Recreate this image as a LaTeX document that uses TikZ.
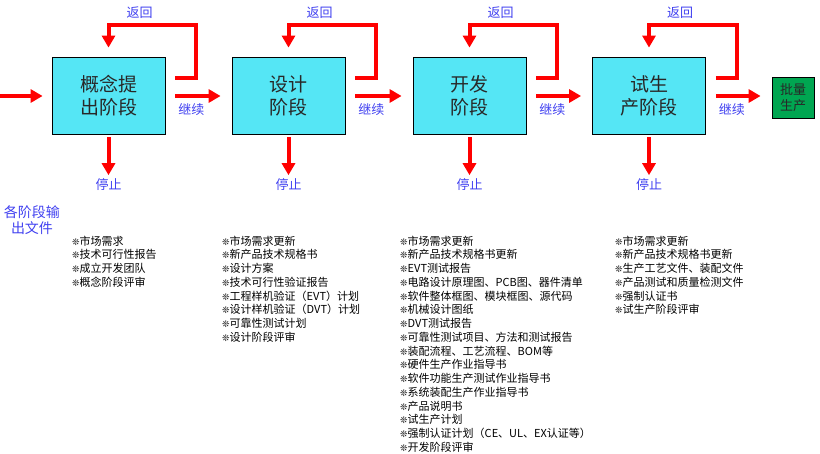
\documentclass[tikz,border=0pt]{standalone}
\usepackage{fontspec}
\setmainfont{Noto Sans CJK SC}
\newfontfamily\bulletfont{DejaVu Sans}
\usepackage{tikz}
\usepackage{xcolor}
\usetikzlibrary{arrows.meta,calc,positioning}
\definecolor{StageCyan}{RGB}{85,230,245}
\definecolor{MassGreen}{RGB}{0,166,81}
\definecolor{FlowRed}{RGB}{255,0,0}
\definecolor{LabelBlue}{RGB}{64,64,240}
\definecolor{BoxText}{RGB}{40,40,40}
\newcommand{\itm}{{\bulletfont\fontsize{9}{9}\selectfont\char"274A}}

\begin{document}
\begin{tikzpicture}[
      x=1pt,y=1pt,
      stagebox/.style={draw=black,fill=StageCyan,line width=0.8pt,minimum width=113pt,minimum height=77pt,align=center,text=BoxText,font=\fontsize{19}{23}\selectfont},
      endbox/.style={draw=black,fill=MassGreen,line width=0.8pt,minimum width=42pt,minimum height=41pt,inner sep=0pt,align=center,text=BoxText,font=\fontsize{13}{15.5}\selectfont},
      lbl/.style={text=LabelBlue,inner sep=0pt,font=\fontsize{13}{15}\selectfont},
      outlist/.style={anchor=north west,align=left,inner sep=0pt,text=black,font=\fontsize{11}{13.75}\selectfont},
      arr/.style={-{Triangle[length=12pt,width=13pt]},line width=4pt,draw=FlowRed},
      back/.style={arr,miter limit=10}
    ]
      \useasboundingbox (0,0) rectangle (820,-453);
      \node[stagebox] (c1) at (108.5,-95.5) {概念提\\出阶段};
      \node[stagebox] (c2) at (288.5,-95.5) {设计\\阶段};
      \node[stagebox] (c3) at (469.5,-95.5) {开发\\阶段};
      \node[stagebox] (c4) at (649,-95.5) {试生\\产阶段};
      \node[endbox] (pl) at (793,-97.5) {批量\\生产};
      \coordinate (start) at (0,-96);
      \draw[arr] (start) -- ($(c1.west)+(-9,-0.5)$);
      \foreach \a/\b in {c1/c2,c2/c3,c3/c4,c4/pl}{
        \draw[arr] ($(\a.east)+(10,-0.5)$) -- ($(\b.west|-\a.east)+(-11,-0.5)$);
        \node[lbl] at ($(\a.east)+(26,-14)$) {继续};
      }
      \foreach \a in {c1,c2,c3,c4}{
        \draw[back] ($(\a.east)+(10,17.5)$) -| ($(\a.north east)+(31,32)$) -| ($(\a.north)+(0,9)$);
        \node[lbl] at ($(\a.north)+(31,44)$) {返回};
        \node[lbl] (t\a) at ($(\a.south)+(0,-50)$) {停止};
        \draw[arr,shorten >=3pt] ($(\a.south)+(0,-3)$) -- (t\a.north);
      }
      \node[lbl,align=center,font=\fontsize{14}{15.5}\selectfont] (out) at (32,-220) {各阶段输\\出文件};
      \node[outlist] (l1) at (72,-235.5) {\itm 市场需求\\\itm 技术可行性报告\\\itm 成立开发团队\\\itm 概念阶段评审};
      \node[outlist] (l2) at (222,-235.5) {\itm 市场需求更新\\\itm 新产品技术规格书\\\itm 设计方案\\\itm 技术可行性验证报告\\\itm 工程样机验证（EVT）计划\\\itm 设计样机验证（DVT）计划\\\itm 可靠性测试计划\\\itm 设计阶段评审};
      \node[outlist] (l3) at (400,-235.5) {\itm 市场需求更新\\\itm 新产品技术规格书更新\\\itm EVT测试报告\\\itm 电路设计原理图、PCB图、器件清单\\\itm 软件整体框图、模块框图、源代码\\\itm 机械设计图纸\\\itm DVT测试报告\\\itm 可靠性测试项目、方法和测试报告\\\itm 装配流程、工艺流程、BOM等\\\itm 硬件生产作业指导书\\\itm 软件功能生产测试作业指导书\\\itm 系统装配生产作业指导书\\\itm 产品说明书\\\itm 试生产计划\\\itm 强制认证计划（CE、UL、EX认证等）\\\itm 开发阶段评审};
      \node[outlist] (l4) at (615,-235.5) {\itm 市场需求更新\\\itm 新产品技术规格书更新\\\itm 生产工艺文件、装配文件\\\itm 产品测试和质量检测文件\\\itm 强制认证书\\\itm 试生产阶段评审};
    \end{tikzpicture}
\end{document}
